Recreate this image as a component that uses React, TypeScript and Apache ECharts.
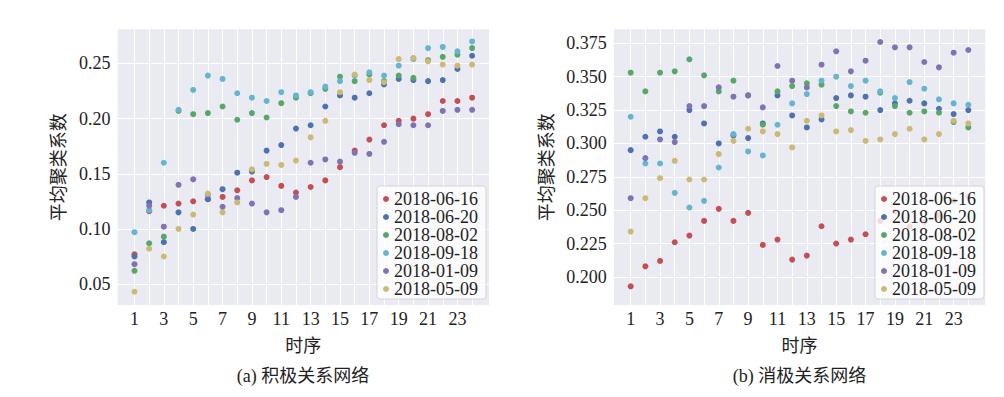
import React, { useEffect, useRef } from "react";
import * as echarts from "echarts";

const timeSteps = [1, 2, 3, 4, 5, 6, 7, 8, 9, 10, 11, 12, 13, 14, 15, 16, 17, 18, 19, 20, 21, 22, 23, 24];
const xTickLabels = [1, 3, 5, 7, 9, 11, 13, 15, 17, 19, 21, 23];
const seriesNames = ["2018-06-16", "2018-06-20", "2018-08-02", "2018-09-18", "2018-01-09", "2018-05-09"];
const colors = ["#C44E52", "#4C72B0", "#55A868", "#64B5CD", "#8172B2", "#CCB974"];

// (a) positive network
const pos0616 = [0.077, 0.116, 0.121, 0.123, 0.125, 0.127, 0.129, 0.135, 0.144, 0.147, 0.139, 0.133, 0.138, 0.144, 0.156, 0.171, 0.181, 0.194, 0.198, 0.200, 0.204, 0.216, 0.216, 0.219];
const pos0620 = [0.075, 0.124, 0.088, 0.115, 0.100, 0.127, 0.136, 0.151, 0.152, 0.171, 0.176, 0.191, 0.194, 0.211, 0.221, 0.219, 0.223, 0.231, 0.236, 0.235, 0.234, 0.235, 0.245, 0.257];
const pos0802 = [0.062, 0.087, 0.093, 0.207, 0.204, 0.205, 0.211, 0.199, 0.205, 0.201, 0.214, 0.219, 0.223, 0.227, 0.238, 0.234, 0.240, 0.234, 0.239, 0.237, 0.253, 0.256, 0.258, 0.264];
const pos0918 = [0.097, 0.117, 0.160, 0.208, 0.226, 0.239, 0.236, 0.223, 0.219, 0.216, 0.224, 0.221, 0.224, 0.229, 0.234, 0.239, 0.242, 0.239, 0.248, 0.254, 0.264, 0.265, 0.261, 0.270];
const pos0109 = [0.068, 0.121, 0.102, 0.140, 0.145, 0.131, 0.120, 0.128, 0.123, 0.115, 0.117, 0.129, 0.160, 0.163, 0.161, 0.169, 0.168, 0.179, 0.195, 0.194, 0.194, 0.207, 0.208, 0.208];
const pos0509 = [0.043, 0.082, 0.075, 0.100, 0.113, 0.132, 0.115, 0.124, 0.154, 0.159, 0.158, 0.162, 0.183, 0.198, 0.224, 0.240, 0.235, 0.233, 0.254, 0.255, 0.252, 0.249, 0.248, 0.249];

// (b) negative network
const neg0616 = [0.193, 0.208, 0.212, 0.226, 0.231, 0.242, 0.251, 0.242, 0.248, 0.224, 0.228, 0.213, 0.216, 0.238, 0.225, 0.228, 0.232, 0.242, 0.249, 0.238, 0.241, 0.246, 0.257, 0.260];
const neg0620 = [0.295, 0.305, 0.309, 0.305, 0.325, 0.315, 0.300, 0.306, 0.304, 0.315, 0.336, 0.321, 0.312, 0.318, 0.334, 0.336, 0.335, 0.325, 0.330, 0.332, 0.330, 0.326, 0.322, 0.325];
const neg0802 = [0.353, 0.339, 0.353, 0.354, 0.363, 0.351, 0.339, 0.347, 0.336, 0.314, 0.339, 0.343, 0.345, 0.344, 0.328, 0.324, 0.323, 0.338, 0.328, 0.323, 0.324, 0.323, 0.316, 0.312];
const neg0918 = [0.320, 0.285, 0.285, 0.263, 0.252, 0.257, 0.282, 0.307, 0.294, 0.291, 0.314, 0.330, 0.337, 0.347, 0.350, 0.343, 0.347, 0.339, 0.334, 0.346, 0.341, 0.333, 0.330, 0.329];
const neg0109 = [0.259, 0.289, 0.303, 0.301, 0.328, 0.328, 0.342, 0.335, 0.336, 0.327, 0.358, 0.347, 0.342, 0.359, 0.369, 0.354, 0.362, 0.376, 0.372, 0.372, 0.361, 0.357, 0.368, 0.370];
const neg0509 = [0.234, 0.259, 0.274, 0.287, 0.273, 0.273, 0.292, 0.302, 0.311, 0.309, 0.307, 0.297, 0.317, 0.321, 0.309, 0.310, 0.302, 0.303, 0.307, 0.311, 0.303, 0.307, 0.317, 0.315];

const posTicks = [0.05, 0.1, 0.15, 0.2, 0.25];
const negTicks = [0.2, 0.225, 0.25, 0.275, 0.3, 0.325, 0.35, 0.375];

const posSeries = [pos0616, pos0620, pos0802, pos0918, pos0109, pos0509];
const negSeries = [neg0616, neg0620, neg0802, neg0918, neg0109, neg0509];

const FONT = "'Liberation Serif', 'Noto Sans CJK SC', serif";
const TXT = "#222222";

export default function App() {
  const ref = useRef<HTMLDivElement>(null);
  useEffect(() => {
    if (!ref.current) return;
    const chart = echarts.init(ref.current, undefined, { renderer: "svg" });
    const grids = [
      { left: 117.6, top: 29.3, width: 371.4, height: 275.7 },
      { left: 613.8, top: 29.3, width: 371.4, height: 275.7 },
    ];
    const mkX = (gi: number) => ({
      type: "value",
      gridIndex: gi,
      min: -0.15,
      max: 25.15,
      axisLine: { show: false },
      axisTick: { show: false, customValues: timeSteps },
      axisLabel: {
        customValues: xTickLabels,
        fontSize: 18,
        fontFamily: FONT,
        color: TXT,
        margin: 5,
      },
      splitLine: { show: true, lineStyle: { color: "#ffffff", width: 1 } },
      name: "时序",
      nameLocation: "middle",
      nameGap: 32,
      nameTextStyle: { fontSize: 18, fontFamily: FONT, color: TXT },
    });
    const mkY = (gi: number, min: number, max: number, ticks: number[], dec: number, gap: number) => ({
      type: "value",
      gridIndex: gi,
      min,
      max,
      axisLine: { show: false },
      axisTick: { show: false, customValues: ticks },
      axisLabel: {
        customValues: ticks,
        formatter: (v: number) => v.toFixed(dec),
        fontSize: 18,
        fontFamily: FONT,
        color: TXT,
        margin: 7,
      },
      splitLine: { show: true, lineStyle: { color: "#ffffff", width: 1 } },
      name: "平均聚类系数",
      nameLocation: "middle",
      nameRotate: 90,
      nameGap: gap,
      nameTextStyle: { fontSize: 18, fontFamily: FONT, color: TXT },
    });
    const series: any[] = [];
    [posSeries, negSeries].forEach((group, gi) => {
      group.forEach((vals, si) => {
        series.push({
          type: "scatter",
          name: seriesNames[si],
          xAxisIndex: gi,
          yAxisIndex: gi,
          symbol: "circle",
          symbolSize: 6,
          itemStyle: { color: colors[si], opacity: 1 },
          data: timeSteps.map((t, i) => [t, vals[i]]),
        });
      });
    });
    const mkLegend = (left: number) => ({
      left,
      bottom: 98,
      orient: "vertical",
      itemWidth: 6,
      itemHeight: 6,
      itemGap: 0,
      icon: "circle",
      padding: [4, 8, 1, 6],
      backgroundColor: "rgba(255,255,255,0.8)",
      borderColor: "#d6d6d6",
      borderWidth: 1,
      borderRadius: 3,
      data: seriesNames,
      textStyle: { fontSize: 18, fontFamily: FONT, color: TXT, lineHeight: 17 },
    });
    chart.setOption({
      animation: false,
      backgroundColor: "#ffffff",
      grid: grids.map((g) => ({ ...g, show: true, backgroundColor: "#EAEAF2", borderWidth: 0, containLabel: false })),
      xAxis: [mkX(0), mkX(1)],
      yAxis: [mkY(0, 0.031, 0.281, posTicks, 2, 50), mkY(1, 0.179, 0.3855, negTicks, 3, 58)],
      legend: [mkLegend(377), mkLegend(875)],
      series,
      graphic: [
        {
          type: "text",
          x: 303,
          y: 376,
          style: { text: "(a) 积极关系网络", fontSize: 18, fontFamily: FONT, fill: TXT, textAlign: "center", textVerticalAlign: "middle" },
        },
        {
          type: "text",
          x: 799.5,
          y: 376,
          style: { text: "(b) 消极关系网络", fontSize: 18, fontFamily: FONT, fill: TXT, textAlign: "center", textVerticalAlign: "middle" },
        },
      ],
    });
    return () => chart.dispose();
  }, []);
  return (
    <div style={{ position: "fixed", left: 0, top: 0, width: 1004, height: 397, background: "#fff" }}>
      <div ref={ref} style={{ width: 1004, height: 397 }} />
    </div>
  );
}
